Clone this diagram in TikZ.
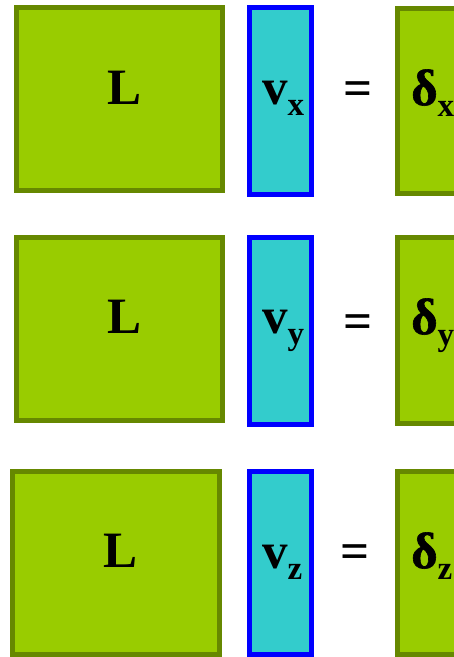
\documentclass[tikz,border=0pt]{standalone}
\usepackage{fontspec}
\setmainfont{Liberation Serif}
\newfontfamily\deltafont[FakeBold=1.2]{Liberation Serif}
\usepackage{tikz}
\usetikzlibrary{positioning}
\definecolor{lgreen}{HTML}{99CC00}
\definecolor{lolive}{HTML}{668800}
\definecolor{vcyan}{HTML}{33CCCC}
\definecolor{vblue}{HTML}{0000FF}
\newcommand{\bigtxt}{\fontsize{51}{60}\selectfont}
\newcommand{\subtxt}[1]{\raisebox{-11pt}{\fontsize{33}{40}\selectfont\bfseries #1}}
\newcommand{\dlt}{{\deltafont\bfseries δ}}

\begin{document}
\begin{tikzpicture}[
    x=1pt, y=-1pt,
    matL/.style={draw=lolive, fill=lgreen, line width=5pt, inner sep=0pt},
    vecv/.style={draw=vblue, fill=vcyan, line width=5pt, inner sep=0pt},
    rhsd/.style={draw=lolive, fill=lgreen, line width=5pt, inner sep=0pt},
    sym/.style={inner sep=0pt, font=\bigtxt\bfseries}
]
\useasboundingbox (0,0) rectangle (454,657);

% =====================================================
% ROW X
% =====================================================
\node[matL, minimum width=206pt, minimum height=183pt] (Lx) at (119.5, 99) {};
\node[vecv, minimum width=62pt, minimum height=187pt] (vx) at (280.5, 101) {};
\node[rhsd, minimum width=75pt, minimum height=185pt] (dx) at (435, 101) {};
\node[sym, anchor=base] (Lxtxt) at (124.5, 104) {L};
\node[sym, anchor=base west] (vxtxt) at (262, 104) {v\subtxt{x}};
\node[sym] (eqx) at (358.5, 93.5) {=};
\node[sym, anchor=base west] (dxtxt) at (411, 105) {\dlt\subtxt{x}};

% =====================================================
% ROW Y
% =====================================================
\node[matL, minimum width=206pt, minimum height=183pt] (Ly) at (119.5, 329) {};
\node[vecv, minimum width=62pt, minimum height=187pt] (vy) at (280.5, 331) {};
\node[rhsd, minimum width=75pt, minimum height=186pt] (dy) at (435, 330.5) {};
\node[sym, anchor=base] (Lytxt) at (124.5, 333) {L};
\node[sym, anchor=base west] (vytxt) at (262, 333) {v\subtxt{y}};
\node[sym] (eqy) at (358.5, 326.5) {=};
\node[sym, anchor=base west] (dytxt) at (411, 334) {\dlt\subtxt{y}};

% =====================================================
% ROW Z
% =====================================================
\node[matL, minimum width=207pt, minimum height=183pt] (Lz) at (116, 563) {};
\node[vecv, minimum width=62pt, minimum height=183pt] (vz) at (280.5, 563) {};
\node[rhsd, minimum width=75pt, minimum height=183pt] (dz) at (435, 563) {};
\node[sym, anchor=base] (Lztxt) at (121, 567) {L};
\node[sym, anchor=base west] (vztxt) at (262, 568) {v\subtxt{z}};
\node[sym] (eqz) at (355, 557) {=};
\node[sym, anchor=base west] (dztxt) at (411, 568) {\dlt\subtxt{z}};

\end{tikzpicture}
\end{document}
